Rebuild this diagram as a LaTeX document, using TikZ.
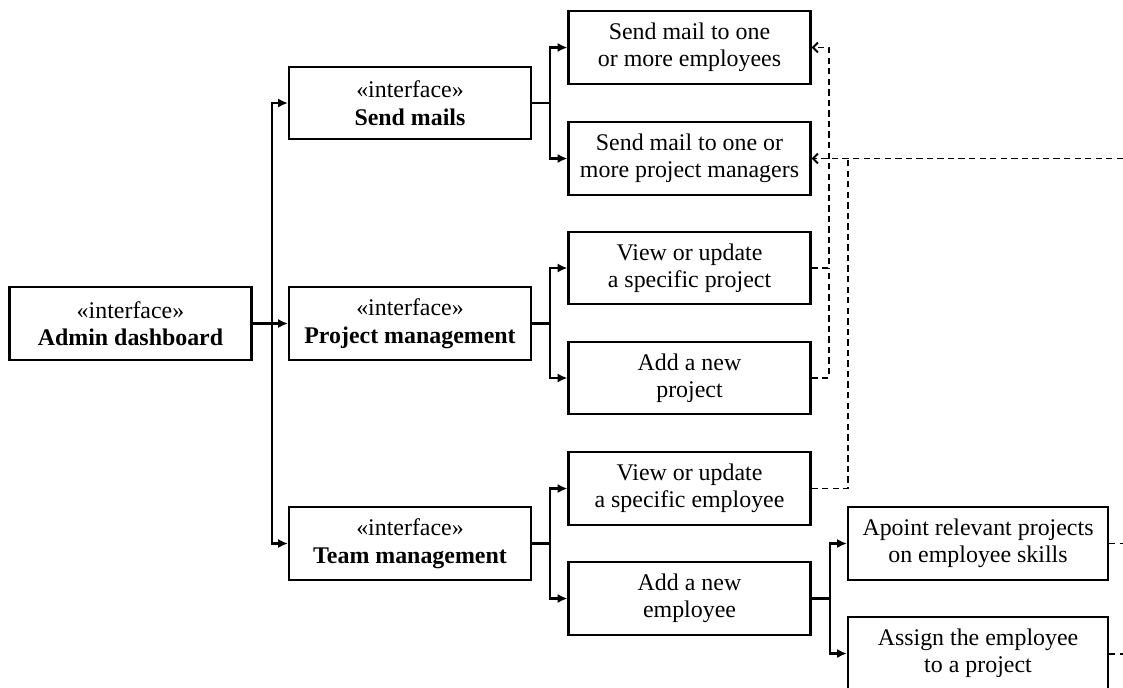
\documentclass[tikz,border=0pt]{standalone}
\usepackage{fontspec}
\setmainfont{Liberation Serif}
\usetikzlibrary{positioning,arrows.meta,calc}

\begin{document}
\begin{tikzpicture}[x=0.025cm,y=-0.025cm,
  font=\fontsize{17}{19.5}\selectfont,
  box/.style={draw=black, line width=1.5pt, fill=white, minimum width=6.05cm, minimum height=1.82cm, align=center, inner sep=2pt},
  widebox/.style={box, minimum width=6.5cm},
  link/.style={line width=1.5pt, -{Latex[length=7pt,width=6.5pt]}},
  uses/.style={line width=1.4pt, dash pattern=on 4.5pt off 3pt, -{Straight Barb[length=3.5pt,width=7pt]}},
  stub/.style={line width=1.4pt, dash pattern=on 4.5pt off 3pt}]
\useasboundingbox (0,0) rectangle (1123,687);
\clip (0,0) rectangle (1123,687);

% interfaces
\node[box] (admin) at (130.5,323.5) {«interface»\\\textbf{Admin dashboard}};
\node[box] (mails) at (410,103) {«interface»\\\textbf{Send mails}};
\node[box] (projects) at (410,323.5) {«interface»\\\textbf{Project management}};
\node[box] (team) at (410,543.5) {«interface»\\\textbf{Team management}};

% actions
\node[box] (mailemp) at (689.5,47.5) {Send mail to one\\or more employees};
\node[box] (mailpm) at (689.5,158.5) {Send mail to one or\\more project managers};
\node[box] (viewproj) at (689.5,268) {View or update\\a specific project};
\node[box] (addproj) at (689.5,378) {Add a new\\project};
\node[box] (viewemp) at (689.5,488.5) {View or update\\a specific employee};
\node[box] (addemp) at (689.5,598.5) {Add a new\\employee};
\node[widebox] (apoint) at (978,543.5) {Apoint relevant projects\\on employee skills};
\node[widebox] (assign) at (978,653.5) {Assign the employee\\to a project};

% tree
\draw[link] (admin.east) -- ++(19,0) |- (mails.west);
\draw[link] (admin.east) -- (projects.west);
\draw[link] (admin.east) -- ++(19,0) |- (team.west);
\foreach \parent/\first/\second in {mails/mailemp/mailpm, projects/viewproj/addproj, team/viewemp/addemp, addemp/apoint/assign} {
  \draw[link] (\parent.east) -- ++(18,0) |- (\first.west);
  \draw[link] (\parent.east) -- ++(18,0) |- (\second.west);
}

% dependencies
\coordinate (busA) at (829,268);
\coordinate (busB) at (848,158.5);
\coordinate (offpm) at (1123,158.5);
\coordinate (offapoint) at (1123,543.5);
\coordinate (offassign) at (1123,653.5);
\draw[uses] (viewproj.east) -- (busA) |- (mailemp.east);
\draw[stub] (addproj.east) -| (busA);
\draw[uses] (offpm) -- (mailpm.east);
\draw[stub] (viewemp.east) -| (busB);
\draw[stub] (apoint.east) -- (offapoint);
\draw[stub] (assign.east) -- (offassign);
\end{tikzpicture}
\end{document}
